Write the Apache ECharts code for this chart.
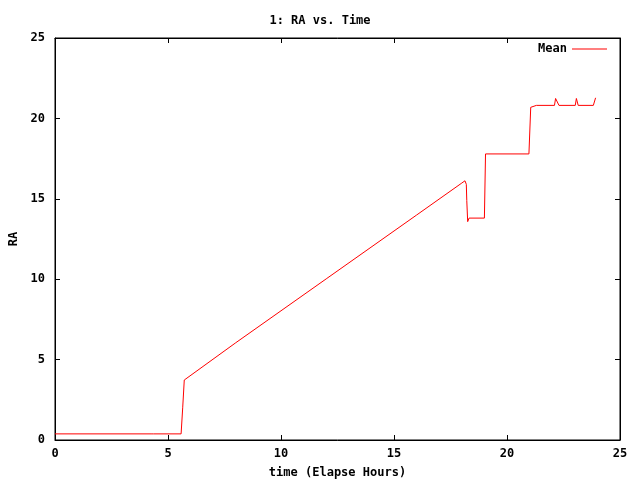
<!DOCTYPE html>
<html>
<head>
<meta charset="utf-8">
<script src="https://cdn.jsdelivr.net/npm/echarts@6/dist/echarts.min.js"></script>
<style>html,body{margin:0;padding:0;background:#fff}#c{width:640px;height:480px}</style>
</head>
<body>
<div id="c"></div>
<script>
const titleText = "1: RA vs. Time";
const seriesName = "Mean";
const xTicks = [0, 5, 10, 15, 20, 25];
const yTicks = [0, 5, 10, 15, 20, 25];
const timeVals = [0, 4.25, 4.3, 4.35, 5.58, 5.65, 5.72, 5.78, 8, 12, 16, 18.0, 18.14, 18.2, 18.22, 18.26, 18.28, 18.32, 19.0, 19.05, 20.97, 21.05, 21.3, 22.1, 22.15, 22.22, 22.3, 23.02, 23.07, 23.15, 23.82, 23.92];
const raVals   = [0.38, 0.38, 0.3, 0.38, 0.38, 2.0, 3.73, 3.84, 6.05, 10.02, 13.99, 15.98, 16.12, 15.9, 14.9, 13.58, 13.55, 13.8, 13.8, 17.79, 17.79, 20.69, 20.81, 20.81, 21.24, 21.24, 20.81, 20.81, 21.24, 20.81, 20.81, 21.28];

const font = "DejaVu Sans Mono";
const data = timeVals.map((t, i) => [t, raVals[i]]);
const chart = echarts.init(document.getElementById('c'));
const lbl = {fontFamily: font, fontWeight: 'bold', fontSize: 12, color: '#000'};
const axLine = {show: true, onZero: false, lineStyle: {color: '#000'}};
const axTick = {inside: true, length: 5, lineStyle: {color: '#000'}};
chart.setOption({
  animation: false,
  backgroundColor: '#fff',
  title: {text: titleText, left: 'center', top: 10, textStyle: Object.assign({}, lbl)},
  legend: {
    data: [seriesName], right: 28, top: 38, align: 'right',
    icon: 'rect', itemWidth: 35, itemHeight: 1, itemGap: 0,
    textStyle: Object.assign({}, lbl, {padding: [0, 0, 0, 0]})
  },
  grid: {left: 55, right: 20, top: 38, bottom: 40, show: true, borderColor: '#000', borderWidth: 1,
         containLabel: false, outerBoundsMode: 'none'},
  xAxis: [{
    type: 'value', min: xTicks[0], max: xTicks[xTicks.length - 1], interval: 5,
    name: 'time (Elapse Hours)', nameLocation: 'middle', nameGap: 27, nameTextStyle: lbl,
    axisLine: axLine, axisTick: axTick,
    axisLabel: Object.assign({margin: 8}, lbl), splitLine: {show: false}
  }, {
    type: 'value', position: 'top', min: xTicks[0], max: xTicks[xTicks.length - 1], interval: 5,
    axisLine: axLine, axisTick: axTick,
    axisLabel: {show: false}, splitLine: {show: false}
  }],
  yAxis: [{
    type: 'value', min: yTicks[0], max: yTicks[yTicks.length - 1], interval: 5,
    name: 'RA', nameLocation: 'middle', nameGap: 35, nameTextStyle: lbl,
    axisLine: axLine, axisTick: axTick,
    axisLabel: Object.assign({margin: 10}, lbl), splitLine: {show: false}
  }, {
    type: 'value', position: 'right', min: yTicks[0], max: yTicks[yTicks.length - 1], interval: 5,
    axisLine: axLine, axisTick: axTick,
    axisLabel: {show: false}, splitLine: {show: false}
  }],
  series: [{
    name: seriesName, type: 'line', data: data, showSymbol: false, symbol: 'none',
    color: '#ff0000', lineStyle: {color: '#ff0000', width: 1}
  }]
});
</script>
</body>
</html>
